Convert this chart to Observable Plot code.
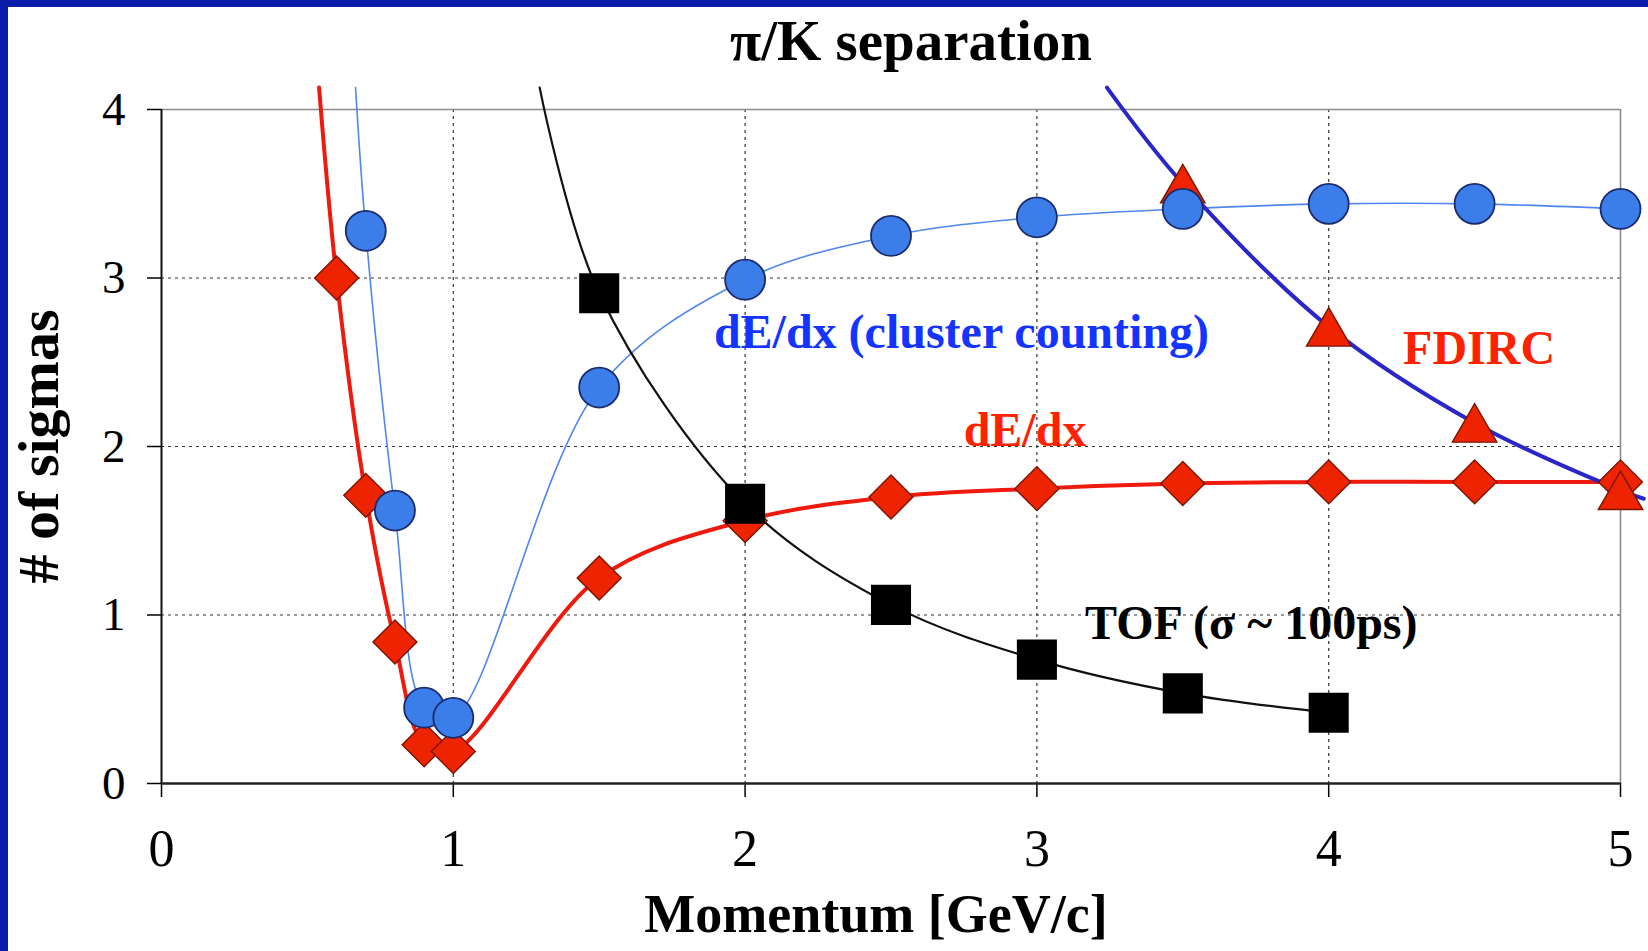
<!DOCTYPE html>
<html>
<head>
<meta charset="utf-8">
<script src="https://cdn.jsdelivr.net/npm/d3@7"></script>
<script src="https://cdn.jsdelivr.net/npm/@observablehq/plot@0.6"></script>
<style>
  html, body { margin: 0; padding: 0; background: #fff; }
  #wrap { position: relative; width: 1648px; height: 951px; overflow: hidden; background: #fff; }
  #wrap svg { display: block; }
  .bl { position: absolute; left: 0; top: 0; width: 8px; height: 951px; background: #0b1ca8; }
  .bt { position: absolute; left: 0; top: 0; width: 1648px; height: 7px; background: #0b1ca8; }
</style>
</head>
<body>
<div id="wrap"></div>
<script>
// ---- data ----
const xTicks = [0, 1, 2, 3, 4, 5];
const yTicks = [0, 1, 2, 3, 4];

// dE/dx (red diamonds)
const dedxP     = [0.6, 0.7, 0.8, 0.9, 1.0, 1.5, 2.0, 2.5, 3.0, 3.5, 4.0, 4.5, 5.0];
const dedxSigma = [3.00, 1.71, 0.84, 0.23, 0.19, 1.22, 1.56, 1.70, 1.75, 1.78, 1.79, 1.79, 1.79];

// dE/dx cluster counting (blue circles)
const clusterP     = [0.7, 0.8, 0.9, 1.0, 1.5, 2.0, 2.5, 3.0, 3.5, 4.0, 4.5, 5.0];
const clusterSigma = [3.28, 1.62, 0.45, 0.39, 2.35, 2.99, 3.25, 3.36, 3.41, 3.44, 3.44, 3.41];

// TOF (black squares)
const tofP     = [1.5, 2.0, 2.5, 3.0, 3.5, 4.0];
const tofSigma = [2.91, 1.66, 1.06, 0.735, 0.535, 0.42];

// FDIRC (red triangles)
const fdircP     = [3.5, 4.0, 4.5, 5.0];
const fdircSigma = [3.56, 2.71, 2.14, 1.74];

// where each drawn curve leaves the top of the frame (dedx, cluster, tof, fdirc)
const curveTopP = [0.54, 0.665, 1.296, 3.24];
const curveTopSigma = 4.13;
// where the FDIRC curve ends at the right edge
const fdircEndP = 5.08, fdircEndSigma = 1.69;

// annotation texts
const noteText = ["dE/dx (cluster counting)", "dE/dx", "FDIRC", "TOF (σ ~ 100ps)"];
const noteP = [1.893, 2.749, 4.255, 3.165];
const noteSigma = [2.677, 2.095, 2.582, 0.950];

// ---- build tables ----
const zip = (P, S) => P.map((p, i) => ({p, s: S[i]}));
const dedx = zip(dedxP, dedxSigma);
const cluster = zip(clusterP, clusterSigma);
const tof = zip(tofP, tofSigma);
const fdirc = zip(fdircP, fdircSigma);

const dedxCurve = [{p: curveTopP[0], s: curveTopSigma}, ...dedx];
const clusterCurve = [{p: curveTopP[1], s: curveTopSigma}, ...cluster];
const tofCurve = [{p: curveTopP[2], s: curveTopSigma}, ...tof];
const fdircCurve = [{p: curveTopP[3], s: curveTopSigma}, ...fdirc, {p: fdircEndP, s: fdircEndSigma}];

const notes = noteText.map((t, i) => ({t, p: noteP[i], s: noteSigma[i]}));

const serif = "'Liberation Serif', 'Times New Roman', Times, serif";
const grid = {stroke: "#333", strokeOpacity: 1, strokeWidth: 1.2, strokeDasharray: "3,4"};
const noteStyle = {x: "p", y: "s", text: "t", textAnchor: "start", lineAnchor: "middle", fontSize: 48, fontWeight: "bold"};

const chart = Plot.plot({
  width: 1648,
  height: 951,
  marginLeft: 161,
  marginRight: 28,
  marginTop: 109,
  marginBottom: 168,
  style: {background: "transparent", fontFamily: serif, color: "black", overflow: "visible"},
  x: {domain: [0, 5]},
  y: {domain: [0, 4]},
  marks: [
    Plot.gridX(xTicks.slice(1, 5), grid),
    Plot.gridY(yTicks.slice(1, 4), grid),
    Plot.ruleY([4], {stroke: "#8c8c8c", strokeWidth: 1.6}),
    Plot.ruleX([5], {stroke: "#8c8c8c", strokeWidth: 1.6}),
    Plot.axisY(yTicks, {tickSize: 14, tickPadding: 22, fontSize: 47, label: null, strokeWidth: 1.5, tickFormat: d => String(d)}),
    Plot.axisX(xTicks, {tickSize: 14, tickPadding: 32, fontSize: 52, label: null, strokeWidth: 1.5, tickFormat: d => String(d)}),
    Plot.ruleX([0], {stroke: "#111", strokeWidth: 2}),
    Plot.ruleY([0], {stroke: "#222", strokeWidth: 2.6}),

    // curves
    Plot.line(dedxCurve, {x: "p", y: "s", curve: "catmull-rom", stroke: "#ee1a0e", strokeWidth: 4}),
    Plot.line(clusterCurve, {x: "p", y: "s", curve: "catmull-rom", stroke: "#4f86ef", strokeWidth: 1.6}),
    Plot.line(tofCurve, {x: "p", y: "s", curve: "catmull-rom", stroke: "#111", strokeWidth: 2.2}),
    Plot.line(fdircCurve, {x: "p", y: "s", curve: "catmull-rom", stroke: "#2a26c8", strokeWidth: 4}),

    // markers
    Plot.dot(dedx, {x: "p", y: "s", symbol: "diamond2", r: 19.8, fill: "#ee2400", stroke: "#7a1500", strokeWidth: 1.4}),
    Plot.dot(fdirc, {x: "p", y: "s", symbol: "triangle", r: 16.5, dy: 6.4, fill: "#ee2400", stroke: "#7a1500", strokeWidth: 1.4}),
    Plot.dot(tof, {x: "p", y: "s", symbol: "square", r: 22.6, fill: "#000"}),
    Plot.dot(cluster, {x: "p", y: "s", symbol: "circle", r: 20, fill: "#3b7eea", stroke: "#1b2b6c", strokeWidth: 1.8}),

    // annotations
    Plot.text([notes[0]], {...noteStyle, fill: "#1434ff"}),
    Plot.text([notes[1]], {...noteStyle, fill: "#ff2200"}),
    Plot.text([notes[2]], {...noteStyle, fill: "#ff2200"}),
    Plot.text([notes[3]], {...noteStyle, fill: "#000"}),

    // title and axis labels
    Plot.text(["π/K separation"], {frameAnchor: "top", textAnchor: "middle", lineAnchor: "middle", dx: 20, dy: -68, fontSize: 57, fontWeight: "bold", fill: "#000"}),
    Plot.text(["Momentum [GeV/c]"], {frameAnchor: "bottom", textAnchor: "middle", lineAnchor: "middle", dx: -15, dy: 131, fontSize: 54, fontWeight: "bold", fill: "#000"}),
    Plot.text(["# of sigmas"], {frameAnchor: "left", textAnchor: "middle", lineAnchor: "middle", rotate: -90, dx: -122, fontSize: 58, fontWeight: "bold", fill: "#000"})
  ]
});

const wrap = document.getElementById("wrap");
wrap.appendChild(chart);
const bl = document.createElement("div"); bl.className = "bl"; wrap.appendChild(bl);
const bt = document.createElement("div"); bt.className = "bt"; wrap.appendChild(bt);
</script>
</body>
</html>
